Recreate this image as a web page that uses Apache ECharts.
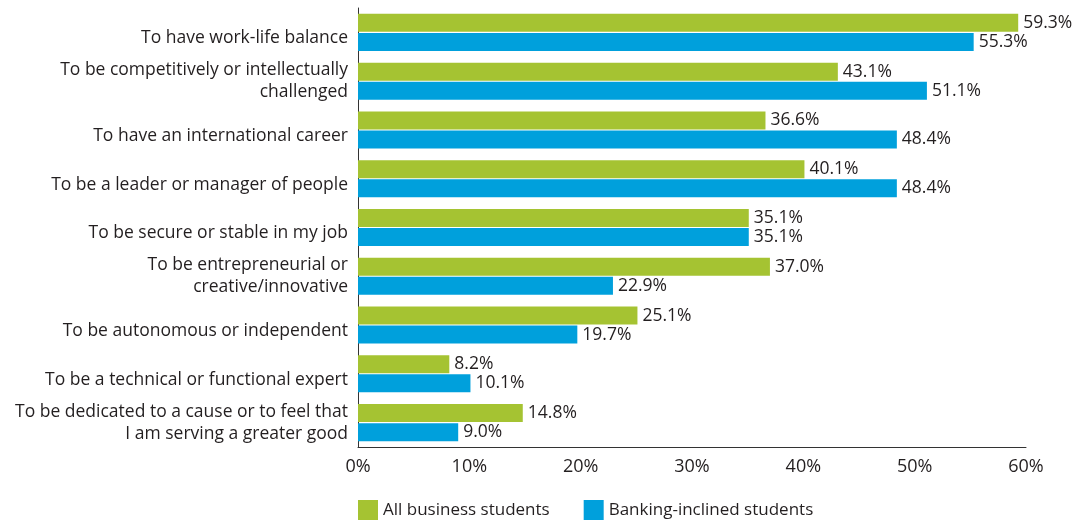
<!DOCTYPE html>
<html><head><meta charset="utf-8">
<script src="https://cdn.jsdelivr.net/npm/echarts@6/dist/echarts.min.js"></script>
<style>html,body{margin:0;padding:0;background:#fff}#c{width:1088px;height:522px}</style>
</head><body><div id="c"></div>
<script>
const categories = [
  "To have work-life balance",
  "To be competitively or intellectually\nchallenged",
  "To have an international career",
  "To be a leader or manager of people",
  "To be secure or stable in my job",
  "To be entrepreneurial or\ncreative/innovative",
  "To be autonomous or independent",
  "To be a technical or functional expert",
  "To be dedicated to a cause or to feel that\nI am serving a greater good"
];
const allBusiness = [59.3, 43.1, 36.6, 40.1, 35.1, 37.0, 25.1, 8.2, 14.8];
const bankingInclined = [55.3, 51.1, 48.4, 48.4, 35.1, 22.9, 19.7, 10.1, 9.0];
const seriesNames = ["All business students", "Banking-inclined students"];
const xTicks = {min: 0, max: 60, interval: 10};

const font = "'Open Sans', 'Noto Sans', sans-serif";
const txt = '#231f20';
const chart = echarts.init(document.getElementById('c'), null, {renderer: 'canvas'});
const lbl = {show: true, position: 'right', distance: 5, color: txt, fontSize: 17.5, fontFamily: font,
  formatter: p => p.value.toFixed(1) + '%'};
chart.setOption({
  animation: false,
  textStyle: {fontFamily: font},
  grid: {left: 358, right: 62, top: 8, bottom: 75, containLabel: false},
  legend: {
    top: 495, left: 353, itemWidth: 20, itemHeight: 20, itemGap: 34,
    icon: 'rect',
    textStyle: {fontSize: 17, color: txt, fontFamily: font},
    data: seriesNames
  },
  xAxis: {
    type: 'value', min: xTicks.min, max: xTicks.max, interval: xTicks.interval,
    axisLine: {show: true, lineStyle: {color: '#333', width: 1}},
    axisTick: {show: false}, splitLine: {show: false},
    axisLabel: {formatter: v => v + '%', fontSize: 18, color: txt, margin: 11, fontFamily: font}
  },
  yAxis: {
    type: 'category', inverse: true, data: categories,
    axisLine: {show: true, lineStyle: {color: '#333', width: 1}},
    axisTick: {show: false},
    axisLabel: {fontSize: 17.5, color: txt, margin: 10, lineHeight: 22, align: 'right', fontFamily: font,
      formatter: v => v.indexOf('\n') < 0 ? '{s|' + v + '}' : v,
      rich: {s: {fontSize: 17.5, color: txt, fontFamily: font, padding: [12, 0, 0, 0]}}}
  },
  series: [
    {name: seriesNames[0], type: 'bar', data: allBusiness, itemStyle: {color: '#a5c332'},
     barGap: '6%', barCategoryGap: '24%', label: lbl},
    {name: seriesNames[1], type: 'bar', data: bankingInclined, itemStyle: {color: '#00a0dc'},
     label: lbl}
  ]
});
</script></body></html>
